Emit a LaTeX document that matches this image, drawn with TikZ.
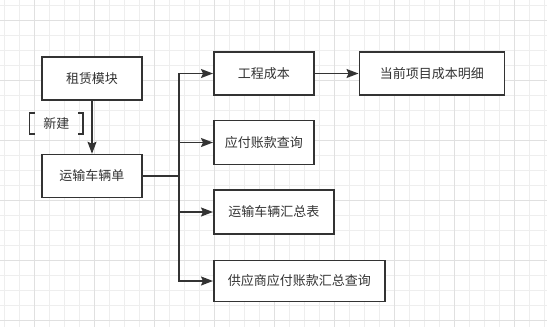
\documentclass[tikz,border=0pt]{standalone}
\usepackage{fontspec}
\usepackage{tikz}
\usetikzlibrary{arrows.meta,positioning}
\newfontfamily\cjk{Noto Sans CJK SC}
\definecolor{ink}{RGB}{51,51,51}
\definecolor{gridminor}{RGB}{238,238,238}
\definecolor{gridmajor}{RGB}{224,224,224}

\begin{document}
\begin{tikzpicture}[
    node distance=24pt and 44pt,
    box/.style={draw=ink, line width=1.5pt, fill=white, minimum width=100pt,
                minimum height=43pt, inner sep=2pt, text=ink,
                font=\cjk\fontsize{13pt}{15pt}\selectfont, align=center},
    tag/.style={minimum width=52pt, minimum height=20pt, inner sep=0pt, text=ink,
                font=\cjk\fontsize{13pt}{15pt}\selectfont},
    brk/.style={draw=ink, line width=1.6pt},
    arr/.style={draw=ink, line width=1.5pt, -{Stealth[length=12pt, width=9pt, inset=2pt]}}
]
    \useasboundingbox (0,0) rectangle (547pt,-327pt);
    \fill[white] (0,0) rectangle (547pt,-327pt);
    \foreach \x in {4,19,...,547} \draw[gridminor, line width=0.8pt] (\x pt,0) -- (\x pt,-327pt);
    \foreach \y in {5,20,...,327} \draw[gridminor, line width=0.8pt] (0,-\y pt) -- (547pt,-\y pt);
    \foreach \x in {34,94,...,547} \draw[gridmajor, line width=0.8pt] (\x pt,0) -- (\x pt,-327pt);
    \foreach \y in {20,80,...,327} \draw[gridmajor, line width=0.8pt] (0,-\y pt) -- (547pt,-\y pt);

    \node[box] (rent) at (92pt,-78.5pt) {租赁模块};
    \node[box, below=53pt of rent] (bill) {运输车辆单};

    \node[box, anchor=west] (cost) at (213pt,-73.5pt) {工程成本};
    \node[box, right=44pt of cost, minimum width=145pt] (detail) {当前项目成本明细};
    \node[box, below=of cost.south west, anchor=north west, minimum height=44pt] (pay) {应付账款查询};
    \node[box, below=of pay.south west, anchor=north west, minimum width=120pt, minimum height=44pt] (summary) {运输车辆汇总表};
    \node[box, below=25pt of summary.south west, anchor=north west, minimum width=171pt, minimum height=41pt] (supplier) {供应商应付账款汇总查询};

    \coordinate[right=36pt of bill.east] (fork);

    \draw[arr] (rent) -- node[tag, pos=0.43, left=9pt] (new) {新建} (bill);
    \draw[brk] ([xshift=5pt]new.north west) -| (new.south west) -- ++(5pt,0);
    \draw[brk] ([xshift=-5pt]new.north east) -| (new.south east) -- ++(-5pt,0);

    \draw[arr] (bill.east) -- (fork) |- (cost);
    \draw[arr] (bill.east) -- (fork) |- (pay);
    \draw[arr] (bill.east) -- (fork) |- (summary);
    \draw[arr] (bill.east) -- (fork) |- (supplier);
    \draw[arr] (cost) -- (detail);
\end{tikzpicture}
\end{document}
